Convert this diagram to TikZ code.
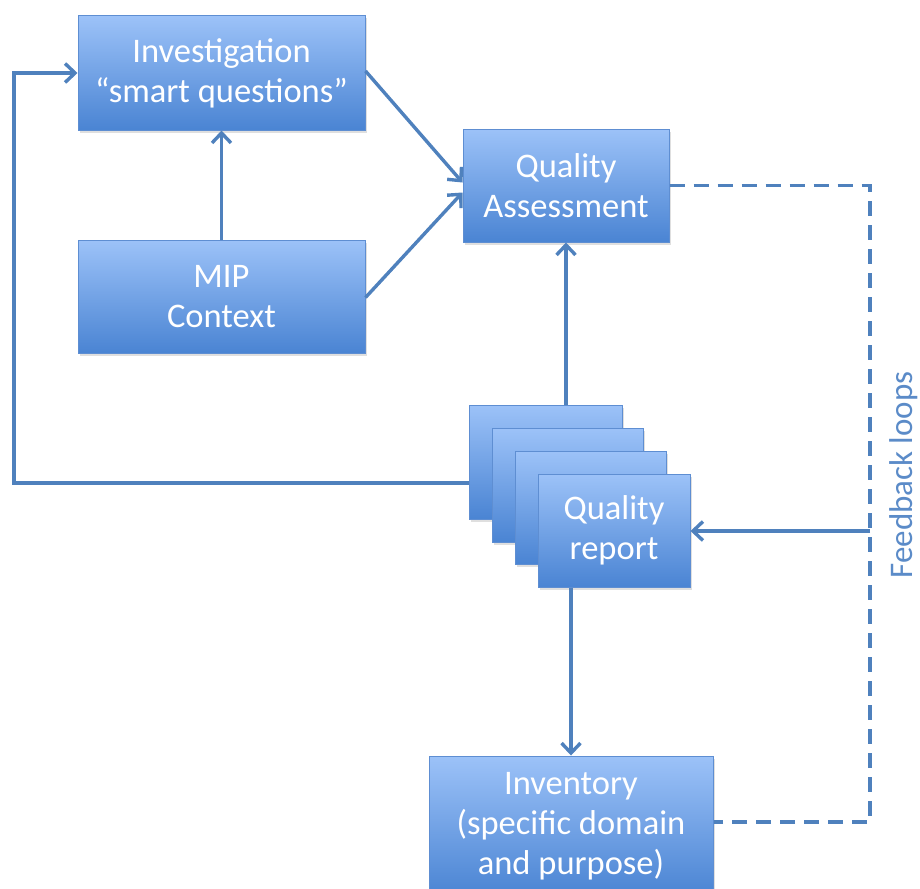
\documentclass[tikz,border=0pt]{standalone}
\usepackage{fontspec}
\setmainfont{Carlito}
\usetikzlibrary{arrows.meta,shadows}
\definecolor{btop}{HTML}{9CC2F8}
\definecolor{bbot}{HTML}{4A84D3}
\definecolor{bedge}{HTML}{5E8ED2}
\definecolor{lineblue}{HTML}{4F81BD}
\definecolor{fbtext}{HTML}{5B8BC8}
\tikzset{
  box/.style={rectangle, draw=bedge, line width=1pt, top color=btop, bottom color=bbot,
    text=white, align=center, inner sep=0pt,
    font=\fontsize{34.5}{40}\selectfont,
    drop shadow={shadow xshift=1.5pt, shadow yshift=-2.5pt, opacity=0.25}},
  conn/.style={draw=lineblue, line width=3.4pt},
  arr/.style={conn, -{Straight Barb[length=10pt,width=19pt,line width=3.4pt]}},
  dashedline/.style={draw=lineblue, line width=3.4pt, dash pattern=on 15pt off 9pt},
}
\begin{document}
\begin{tikzpicture}[x=1pt,y=-1pt]
\useasboundingbox (0,0) rectangle (920,888);
\node[box, minimum width=287pt, minimum height=114pt] (inv) at (221.5,73) {Investigation\\“smart questions”};
\node[box, minimum width=287pt, minimum height=113pt] (mip) at (221.5,296.5) {MIP\\Context};
\node[box, minimum width=206pt, minimum height=113pt] (qa) at (566,185.5) {Quality\\Assessment};
\node[box, minimum width=153pt, minimum height=114pt] (b1) at (545.5,462) {};
\node[box, minimum width=151pt, minimum height=114pt] (b2) at (567.5,485) {};
\node[box, minimum width=151pt, minimum height=113pt] (b3) at (590.5,507.5) {};
\node[box, minimum width=152pt, minimum height=113pt] (b4) at (614,530.5) {Quality\\report};
\node[box, minimum width=284pt, minimum height=140pt] (invent) at (571,826) {Inventory\\(specific domain\\and purpose)};
\node[rotate=90, text=fbtext, font=\fontsize{33}{36}\selectfont, inner sep=0pt] (fbl) at (904,475) {Feedback loops};
\coordinate (lc) at (14,483);
\coordinate (fa) at (870,185.5);
\coordinate (fb) at (870,822);
\coordinate (fm) at (870,531);
% connectors
\draw[arr] ([yshift=-21pt]b1.west) -- (lc) |- (inv.west);
\draw[arr] (mip.north) -- (inv.south);
\draw[arr] ([yshift=2pt]inv.east) -- ([yshift=3pt]qa.west);
\draw[arr] ([yshift=-1pt]mip.east) -- ([yshift=-7pt]qa.west);
\draw[arr] (qa.south |- b1.north) -- (qa.south);
\draw[arr] (invent.north |- b4.south) -- (invent.north);
\draw[dashedline] (qa.east) -- (fa) -- (fb) -- (fb -| invent.east);
\draw[arr] (fm) -- (fm -| b4.east);
\end{tikzpicture}
\end{document}
